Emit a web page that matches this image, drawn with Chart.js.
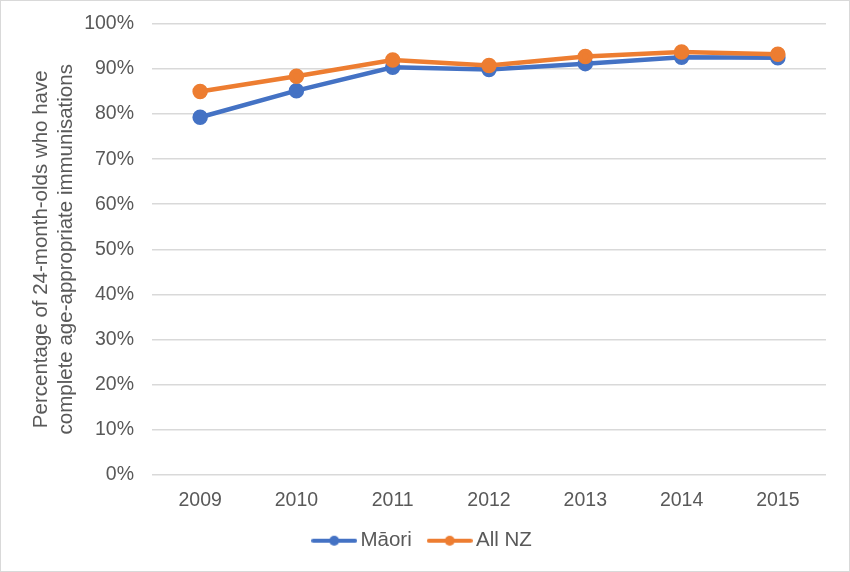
<!DOCTYPE html>
<html>
<head>
<meta charset="utf-8">
<script src="https://cdn.jsdelivr.net/npm/chart.js@4"></script>
<style>
  html, body { margin: 0; padding: 0; background: #fff; }
  #wrap { width: 850px; height: 572px; box-sizing: border-box; border: 1px solid #d9d9d9; }
  canvas { display: block; }
</style>
</head>
<body>
<div id="wrap"><canvas id="chart" width="848" height="570"></canvas></div>
<script>
// values (percent)
const years = ['2009', '2010', '2011', '2012', '2013', '2014', '2015'];
const maori = [79.3, 85.2, 90.4, 89.9, 91.2, 92.6, 92.5];
const allNZ = [85.0, 88.4, 92.0, 90.8, 92.8, 93.8, 93.3];
const seriesNames = ['Māori', 'All NZ'];
const yTitle = ['Percentage of 24-month-olds who have', 'complete age-appropriate immunisations'];

const BLUE = '#4472C4';
const ORANGE = '#ED7D31';
const GREY = '#595959';
const FONT = "'Liberation Sans', Arial, sans-serif";
const FS = 19.5;

// little line-with-dot swatch for the legend
function swatch(color) {
    const c = document.createElement('canvas');
    c.width = 46;
    c.height = 12;
    const g = c.getContext('2d');
    g.strokeStyle = color;
    g.lineWidth = 4;
    g.lineCap = 'round';
    g.beginPath();
    g.moveTo(2, 6);
    g.lineTo(44, 6);
    g.stroke();
    g.fillStyle = color;
    g.beginPath();
    g.arc(23, 6, 5, 0, Math.PI * 2);
    g.fill();
    return c;
}

const ctx = document.getElementById('chart').getContext('2d');
new Chart(ctx, {
    type: 'line',
    data: {
        labels: years,
        datasets: [{
            label: seriesNames[0],
            data: maori,
            borderColor: BLUE,
            backgroundColor: BLUE,
            borderWidth: 4.5,
            pointRadius: 5.5,
            pointHoverRadius: 5.5,
            order: 1
        }, {
            label: seriesNames[1],
            data: allNZ,
            borderColor: ORANGE,
            backgroundColor: ORANGE,
            borderWidth: 4.5,
            pointRadius: 5.5,
            pointHoverRadius: 5.5,
            order: 0
        }]
    },
    options: {
        responsive: false,
        animation: false,
        layout: { padding: { left: 23, right: 23, top: 23, bottom: 10 } },
        plugins: {
            tooltip: { enabled: false },
            legend: {
                position: 'bottom',
                labels: {
                    usePointStyle: true,
                    pointStyleWidth: 32,
                    padding: 22,
                    color: GREY,
                    font: { family: FONT, size: 20.5 },
                    generateLabels: (chart) => chart.data.datasets.map((ds, i) => ({
                        text: ds.label,
                        fontColor: GREY,
                        pointStyle: swatch(ds.borderColor),
                        datasetIndex: i,
                        hidden: false,
                        lineWidth: 0,
                        strokeStyle: ds.borderColor,
                        fillStyle: ds.borderColor
                    }))
                }
            }
        },
        scales: {
            x: {
                offset: true,
                grid: { display: false },
                border: { display: false },
                ticks: { color: GREY, padding: 6, font: { family: FONT, size: FS } },
                afterFit: (scale) => { scale.height = 34; }
            },
            y: {
                min: 0,
                max: 100,
                ticks: {
                    stepSize: 10,
                    padding: 18,
                    color: GREY,
                    font: { family: FONT, size: FS },
                    callback: (v) => v + '%'
                },
                grid: { color: '#d9d9d9', lineWidth: 1.5, drawTicks: false },
                border: { display: false },
                title: {
                    display: true,
                    text: yTitle,
                    color: GREY,
                    font: { family: FONT, size: 20.5, lineHeight: 1.22 },
                    padding: { top: 5, bottom: 0 }
                },
                afterFit: (scale) => {
                    scale.width = 128;
                    scale.paddingTop = 0;
                    scale.paddingBottom = 0;
                }
            }
        }
    }
});
</script>
</body>
</html>
